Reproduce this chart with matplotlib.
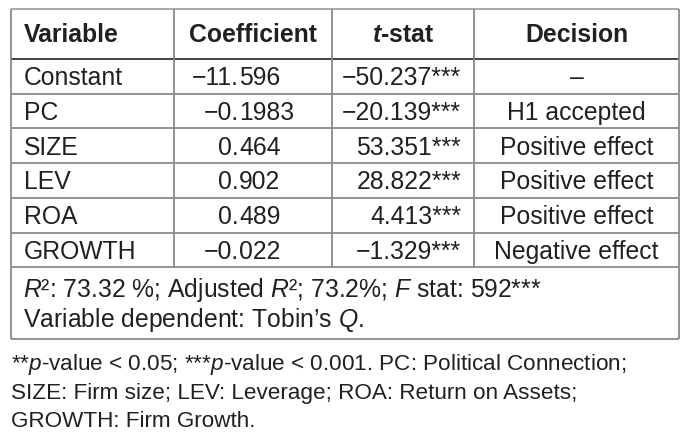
import matplotlib.pyplot as plt

plt.rcParams['font.family'] = ['Liberation Sans', 'DejaVu Sans']
plt.rcParams['mathtext.fontset'] = 'custom'
plt.rcParams['mathtext.rm'] = 'Liberation Sans'
plt.rcParams['mathtext.it'] = 'Liberation Sans:italic'
plt.rcParams['mathtext.bf'] = 'Liberation Sans:bold'
plt.rcParams['mathtext.bfit'] = 'Liberation Sans:italic:bold'

# Table content
headers = ['Variable', 'Coefficient', r'$\mathbfit{t}$-stat', 'Decision']
variables = ['Constant', 'PC', 'SIZE', 'LEV', 'ROA', 'GROWTH']
coefficients = ['\u221211.596', '\u22120.1983', '0.464', '0.902', '0.489', '\u22120.022']
t_stats = ['\u221250.237***', '\u221220.139***', '53.351***', '28.822***', '4.413***', '\u22121.329***']
decisions = ['\u2013', 'H1 accepted', 'Positive effect', 'Positive effect',
             'Positive effect', 'Negative effect']
box_notes = [r'$R$²: 73.32 %; Adjusted $R$²; 73.2%; $F$ stat: 592***',
             r'Variable dependent: Tobin’s $Q$.']
footnotes = [r'**$p$-value < 0.05; ***$p$-value < 0.001. PC: Political Connection;',
             'SIZE: Firm size; LEV: Leverage; ROA: Return on Assets;',
             'GROWTH: Firm Growth.']

# layout in pixels
col_x = [11, 174, 332, 474, 679]
top = 8.5
header_bottom = 59
row_h = 34.7
box_bottom = 339
txt = '#231f20'
grid = '#8a8a8a'
fs = 17.8
fs_note = 16.2

fig = plt.figure(figsize=(6.99, 4.46), dpi=100)
ax = fig.add_axes([0, 0, 1, 1])
ax.set_xlim(0, 699)
ax.set_ylim(446, 0)
ax.axis('off')

n = len(variables)
row_edges = [header_bottom + row_h * i for i in range(n + 1)]

# grid lines
ax.hlines(top, col_x[0], col_x[-1], color='#a0a0a0', lw=1.3)
ax.hlines(header_bottom, col_x[0], col_x[-1], color='#333333', lw=1.3)
for y in row_edges[1:]:
    ax.hlines(y, col_x[0], col_x[-1], color=grid, lw=1.3)
ax.hlines(box_bottom, col_x[0], col_x[-1], color=grid, lw=1.3)
for x in col_x[1:-1]:
    ax.vlines(x, top, row_edges[-1], color=grid, lw=1.3)
ax.vlines(col_x[0], top, box_bottom, color=grid, lw=1.3)
ax.vlines(col_x[-1], top, box_bottom, color=grid, lw=1.3)

# header
hy = (top + header_bottom) / 2 + 8.5
ax.text(24, hy, headers[0], ha='left', va='baseline', fontsize=fs, fontweight='bold', color=txt)
for j in range(1, 4):
    cx = (col_x[j] + col_x[j + 1]) / 2
    ax.text(cx, hy, headers[j], ha='center', va='baseline', fontsize=fs, fontweight='bold', color=txt)

# rows
dec_x = 239
tstat_right = 461
dec_center = (col_x[3] + col_x[4]) / 2
for i in range(n):
    y = (row_edges[i] + row_edges[i + 1]) / 2 + 9
    ax.text(24, y, variables[i], ha='left', va='baseline', fontsize=fs, color=txt)
    whole, frac = coefficients[i].split('.')
    ax.text(dec_x, y, whole + '.', ha='right', va='baseline', fontsize=fs, color=txt)
    ax.text(dec_x, y, frac, ha='left', va='baseline', fontsize=fs, color=txt)
    ax.text(tstat_right, y, t_stats[i], ha='right', va='baseline', fontsize=fs, color=txt)
    ax.text(dec_center, y, decisions[i], ha='center', va='baseline', fontsize=fs, color=txt)

# notes inside box
for k, line in enumerate(box_notes):
    ax.text(23, 297 + 30 * k, line, ha='left', va='baseline', fontsize=fs, color=txt)

# footnotes
for k, line in enumerate(footnotes):
    ax.text(11, 370 + 28.5 * k, line, ha='left', va='baseline', fontsize=fs_note, color=txt)

fig.savefig('out.png', dpi=100)
